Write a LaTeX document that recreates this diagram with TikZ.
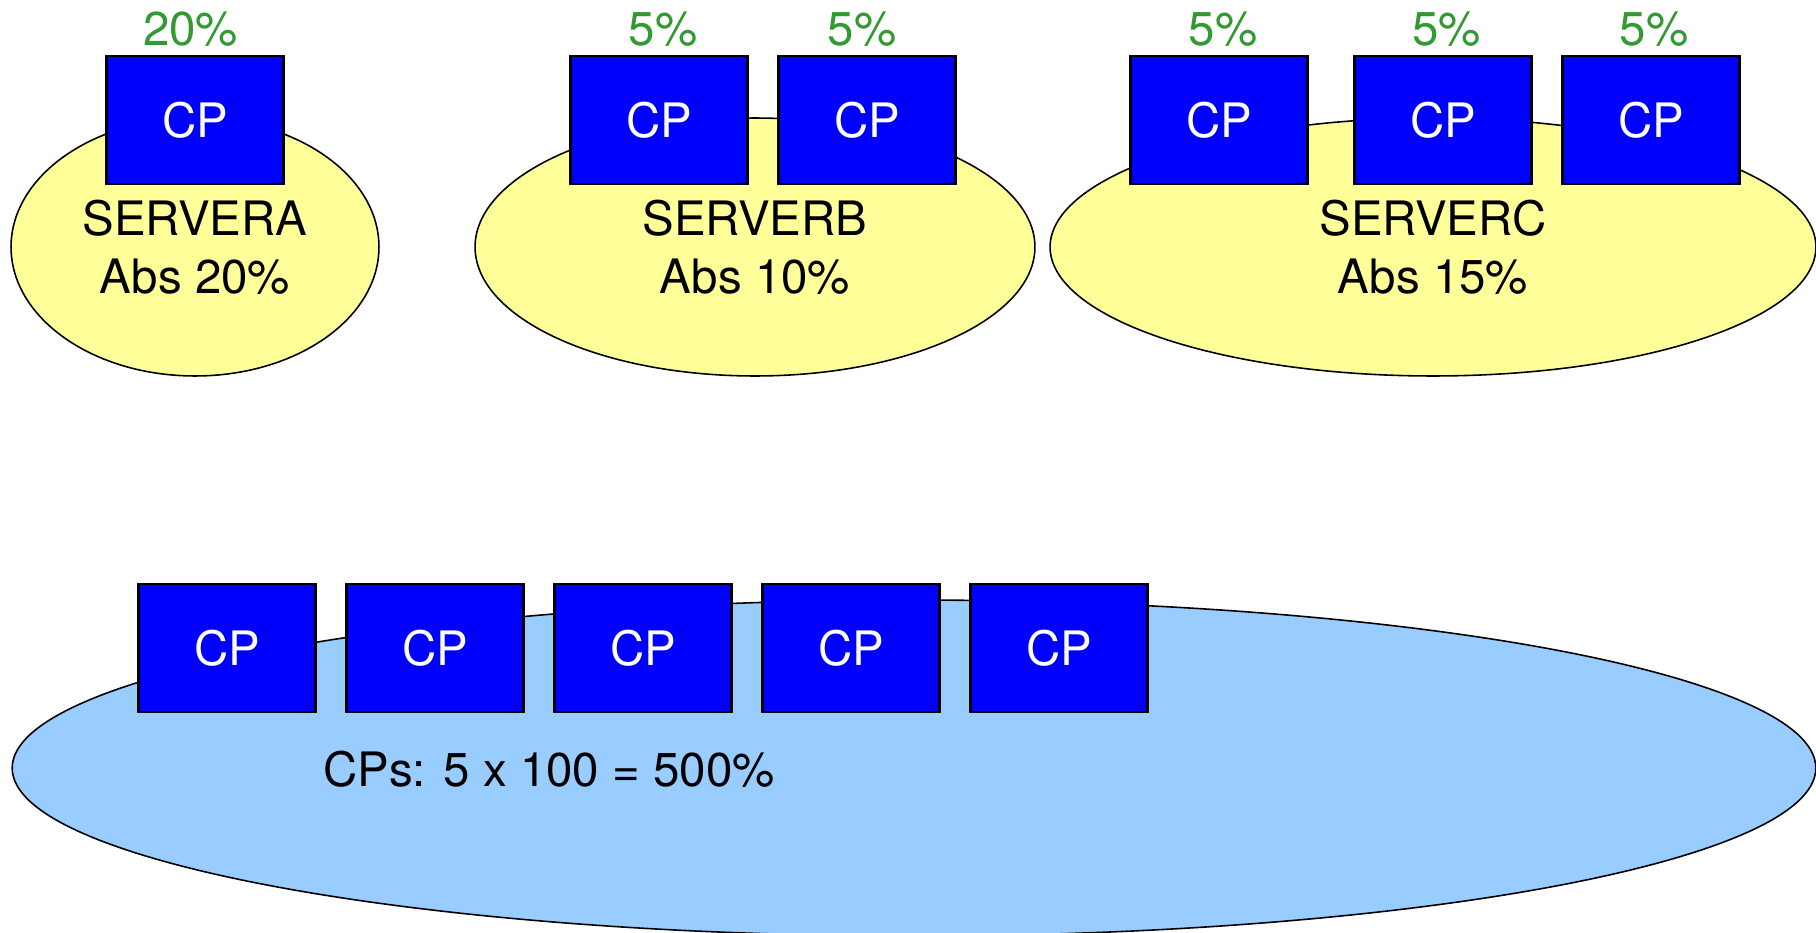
\documentclass[tikz,border=0pt]{standalone}
\usepackage{fontspec}
\setmainfont{TeX Gyre Heros}
\usetikzlibrary{positioning, shapes.geometric}

\definecolor{cpblue}{RGB}{0,0,255}
\definecolor{srvyellow}{RGB}{255,255,153}
\definecolor{poolblue}{RGB}{153,204,255}
\definecolor{pctgreen}{RGB}{51,153,51}

\tikzset{
    cpbox/.style={draw, line width=1.4pt, fill=cpblue, text=white, minimum width=3.54cm, minimum height=2.57cm, inner sep=0pt},
    server/.style={draw, ellipse, line width=0.9pt, fill=srvyellow, minimum height=5.16cm, inner sep=0pt, align=center},
    pct/.style={text=pctgreen, inner sep=0pt, above=0.16cm of #1}
}

\begin{document}
\begin{tikzpicture}[x=0.02cm, y=-0.02cm, font=\fontsize{27}{33}\selectfont]
        \useasboundingbox (0,0) rectangle (1816,933);
        % servers
        \draw (195,247) node[server, minimum width=7.36cm] (srvA) {SERVERA\\Abs 20\%};
        \draw (755,247) node[server, minimum width=11.2cm] (srvB) {SERVERB\\Abs 10\%};
        \draw (1433,247) node[server, minimum width=15.32cm] (srvC) {SERVERC\\Abs 15\%};
        % CPs of the servers
        \draw (195,120) node[cpbox] (cpA) {CP};
        \draw (659,120) node[cpbox] (cpB1) {CP}
              (867,120) node[cpbox] (cpB2) {CP};
        \draw (1219,120) node[cpbox] (cpC1) {CP}
              (1443,120) node[cpbox] (cpC2) {CP}
              (1651,120) node[cpbox] (cpC3) {CP};
        \node[pct=cpA, xshift=-0.09cm] {20\%};
        \foreach \c/\dx in {cpB1/0.08, cpB2/-0.1, cpC1/0.08, cpC2/0.07, cpC3/0.06}
            \node[pct=\c, xshift=\dx cm] {5\%};
        % shared pool
        \draw (914,768) node[draw, ellipse, line width=0.9pt, fill=poolblue, minimum width=36.08cm, minimum height=6.72cm] (pool) {};
        \foreach \i in {1,...,5}
            \node[cpbox] (pcp\i) at ({19+208*\i},648) {CP};
        \draw (549,769) node (poolcap) {CPs: 5 x 100 = 500\%};
\end{tikzpicture}
\end{document}
